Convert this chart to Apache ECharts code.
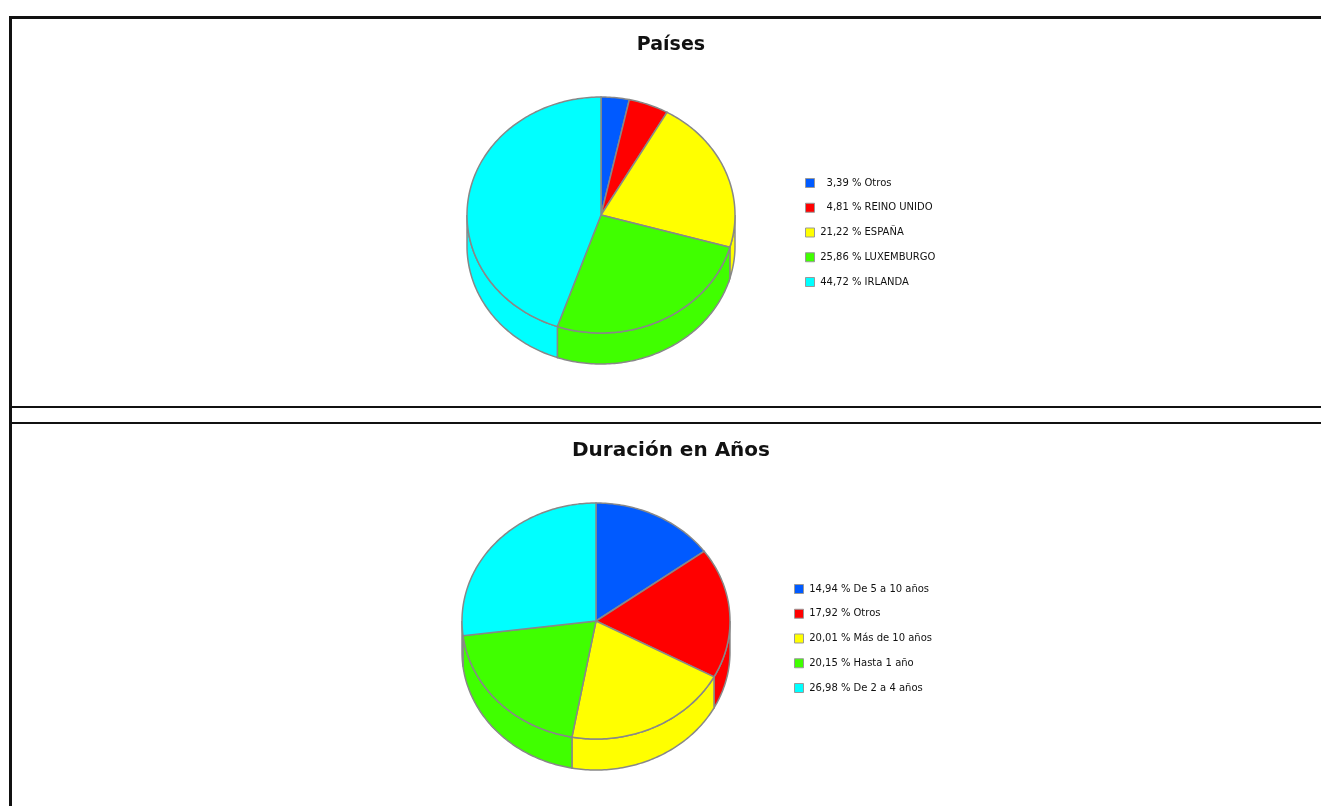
<!DOCTYPE html>
<html>
<head>
<meta charset="utf-8">
<style>html,body{margin:0;padding:0;background:#fff}#c{width:1321px;height:806px}</style>
<script src="https://cdn.jsdelivr.net/npm/echarts@6/dist/echarts.min.js"></script>
</head>
<body>
<div id="c"></div>
<script>
const countryNames = ['Otros','REINO UNIDO','ESPAÑA','LUXEMBURGO','IRLANDA'];
const countryValues = [3.39,4.81,21.22,25.86,44.72];
const durationNames = ['De 5 a 10 años','Otros','Más de 10 años','Hasta 1 año','De 2 a 4 años'];
const durationValues = [14.94,17.92,20.01,20.15,26.98];
const sliceColors = ['#005AFF','#FF0000','#FFFF00','#40FF00','#00FFFF'];
const edge = '#888888';
const pct = v => v.toFixed(2).replace('.',',');
const label = (v,n) => pct(v)+' % '+n;

function ellipsePoint(p,deg,dy){
  const a = deg*Math.PI/180;
  return [p.cx+p.rx*Math.sin(a), p.cy-p.ry*Math.cos(a)+(dy||0)];
}
function arcPoints(p,a,b,dy){
  const n = Math.max(2,Math.ceil(Math.abs(b-a)));
  const out=[];
  for(let i=0;i<=n;i++) out.push(ellipsePoint(p,a+(b-a)*i/n,dy));
  return out;
}
function sliceSeries(names,values,p){
  let cum=0;
  return names.map((n,i)=>{
    const start=cum; cum+=values[i];
    return {
      type:'custom',
      coordinateSystem:'none',
      name:label(values[i],n),
      color:sliceColors[i],
      itemStyle:{color:sliceColors[i]},
      silent:true,
      animation:false,
      data:[[start,values[i]]],
      renderItem:function(params,api){
        const a=api.value(0)*3.6, b=(api.value(0)+api.value(1))*3.6;
        const children=[];
        const sa=Math.max(a,90), sb=Math.min(b,270);
        if(sb>sa){
          const pts=arcPoints(p,sa,sb,0).concat(arcPoints(p,sb,sa,p.depth));
          children.push({type:'polygon',shape:{points:pts},
            style:{fill:sliceColors[i],stroke:edge,lineWidth:1.5}});
        }
        children.push({type:'polygon',
          shape:{points:[[p.cx,p.cy]].concat(arcPoints(p,a,b,0))},
          style:{fill:sliceColors[i],stroke:edge,lineWidth:1.5}});
        return {type:'group',children:children};
      }
    };
  });
}
function legendFor(names,values,left,top){
  return {
    show:true,orient:'vertical',left:left,top:top,padding:0,
    selectedMode:false,
    itemWidth:9,itemHeight:9,itemGap:14.75,
    icon:'rect',
    itemStyle:{borderColor:'#999999',borderWidth:1},
    data:names.map((n,i)=>label(values[i],n)),
    formatter:function(name){
      const k=name.indexOf(' % ');
      return '{p|'+name.slice(0,k+2)+'}{n|'+name.slice(k+3)+'}';
    },
    textStyle:{
      rich:{
        p:{width:42,align:'right',fontFamily:'DejaVu Sans',fontSize:10,color:'#111',lineHeight:12},
        n:{align:'right',padding:[0,0,0,3],fontFamily:'DejaVu Sans',fontSize:10,color:'#111',lineHeight:12}
      }
    }
  };
}
const rule=(x,y,w,h)=>({type:'rect',shape:{x:x,y:y,width:w,height:h},style:{fill:'#111111'},silent:true});
const pieA={cx:601,cy:215,rx:134,ry:118,depth:31};
const pieB={cx:596,cy:621,rx:134,ry:118,depth:31};
const chart=echarts.init(document.getElementById('c'),null,{renderer:'canvas'});
chart.setOption({
  animation:false,
  backgroundColor:'#ffffff',
  title:[
    {text:'Países',left:671,top:36,padding:0,textAlign:'center',textStyle:{fontFamily:'DejaVu Sans',fontWeight:'bold',fontSize:19,color:'#111'}},
    {text:'Duración en Años',left:671,top:441,padding:0,textAlign:'center',textStyle:{fontFamily:'DejaVu Sans',fontWeight:'bold',fontSize:20,color:'#111'}}
  ],
  legend:[legendFor(countryNames,countryValues,805,178),legendFor(durationNames,durationValues,794,584)],
  graphic:[rule(9,16,1312,3),rule(9,16,3,790),rule(12,406,1309,2),rule(12,422,1309,2)],
  series:sliceSeries(countryNames,countryValues,pieA).concat(sliceSeries(durationNames,durationValues,pieB))
});
</script>
</body>
</html>
